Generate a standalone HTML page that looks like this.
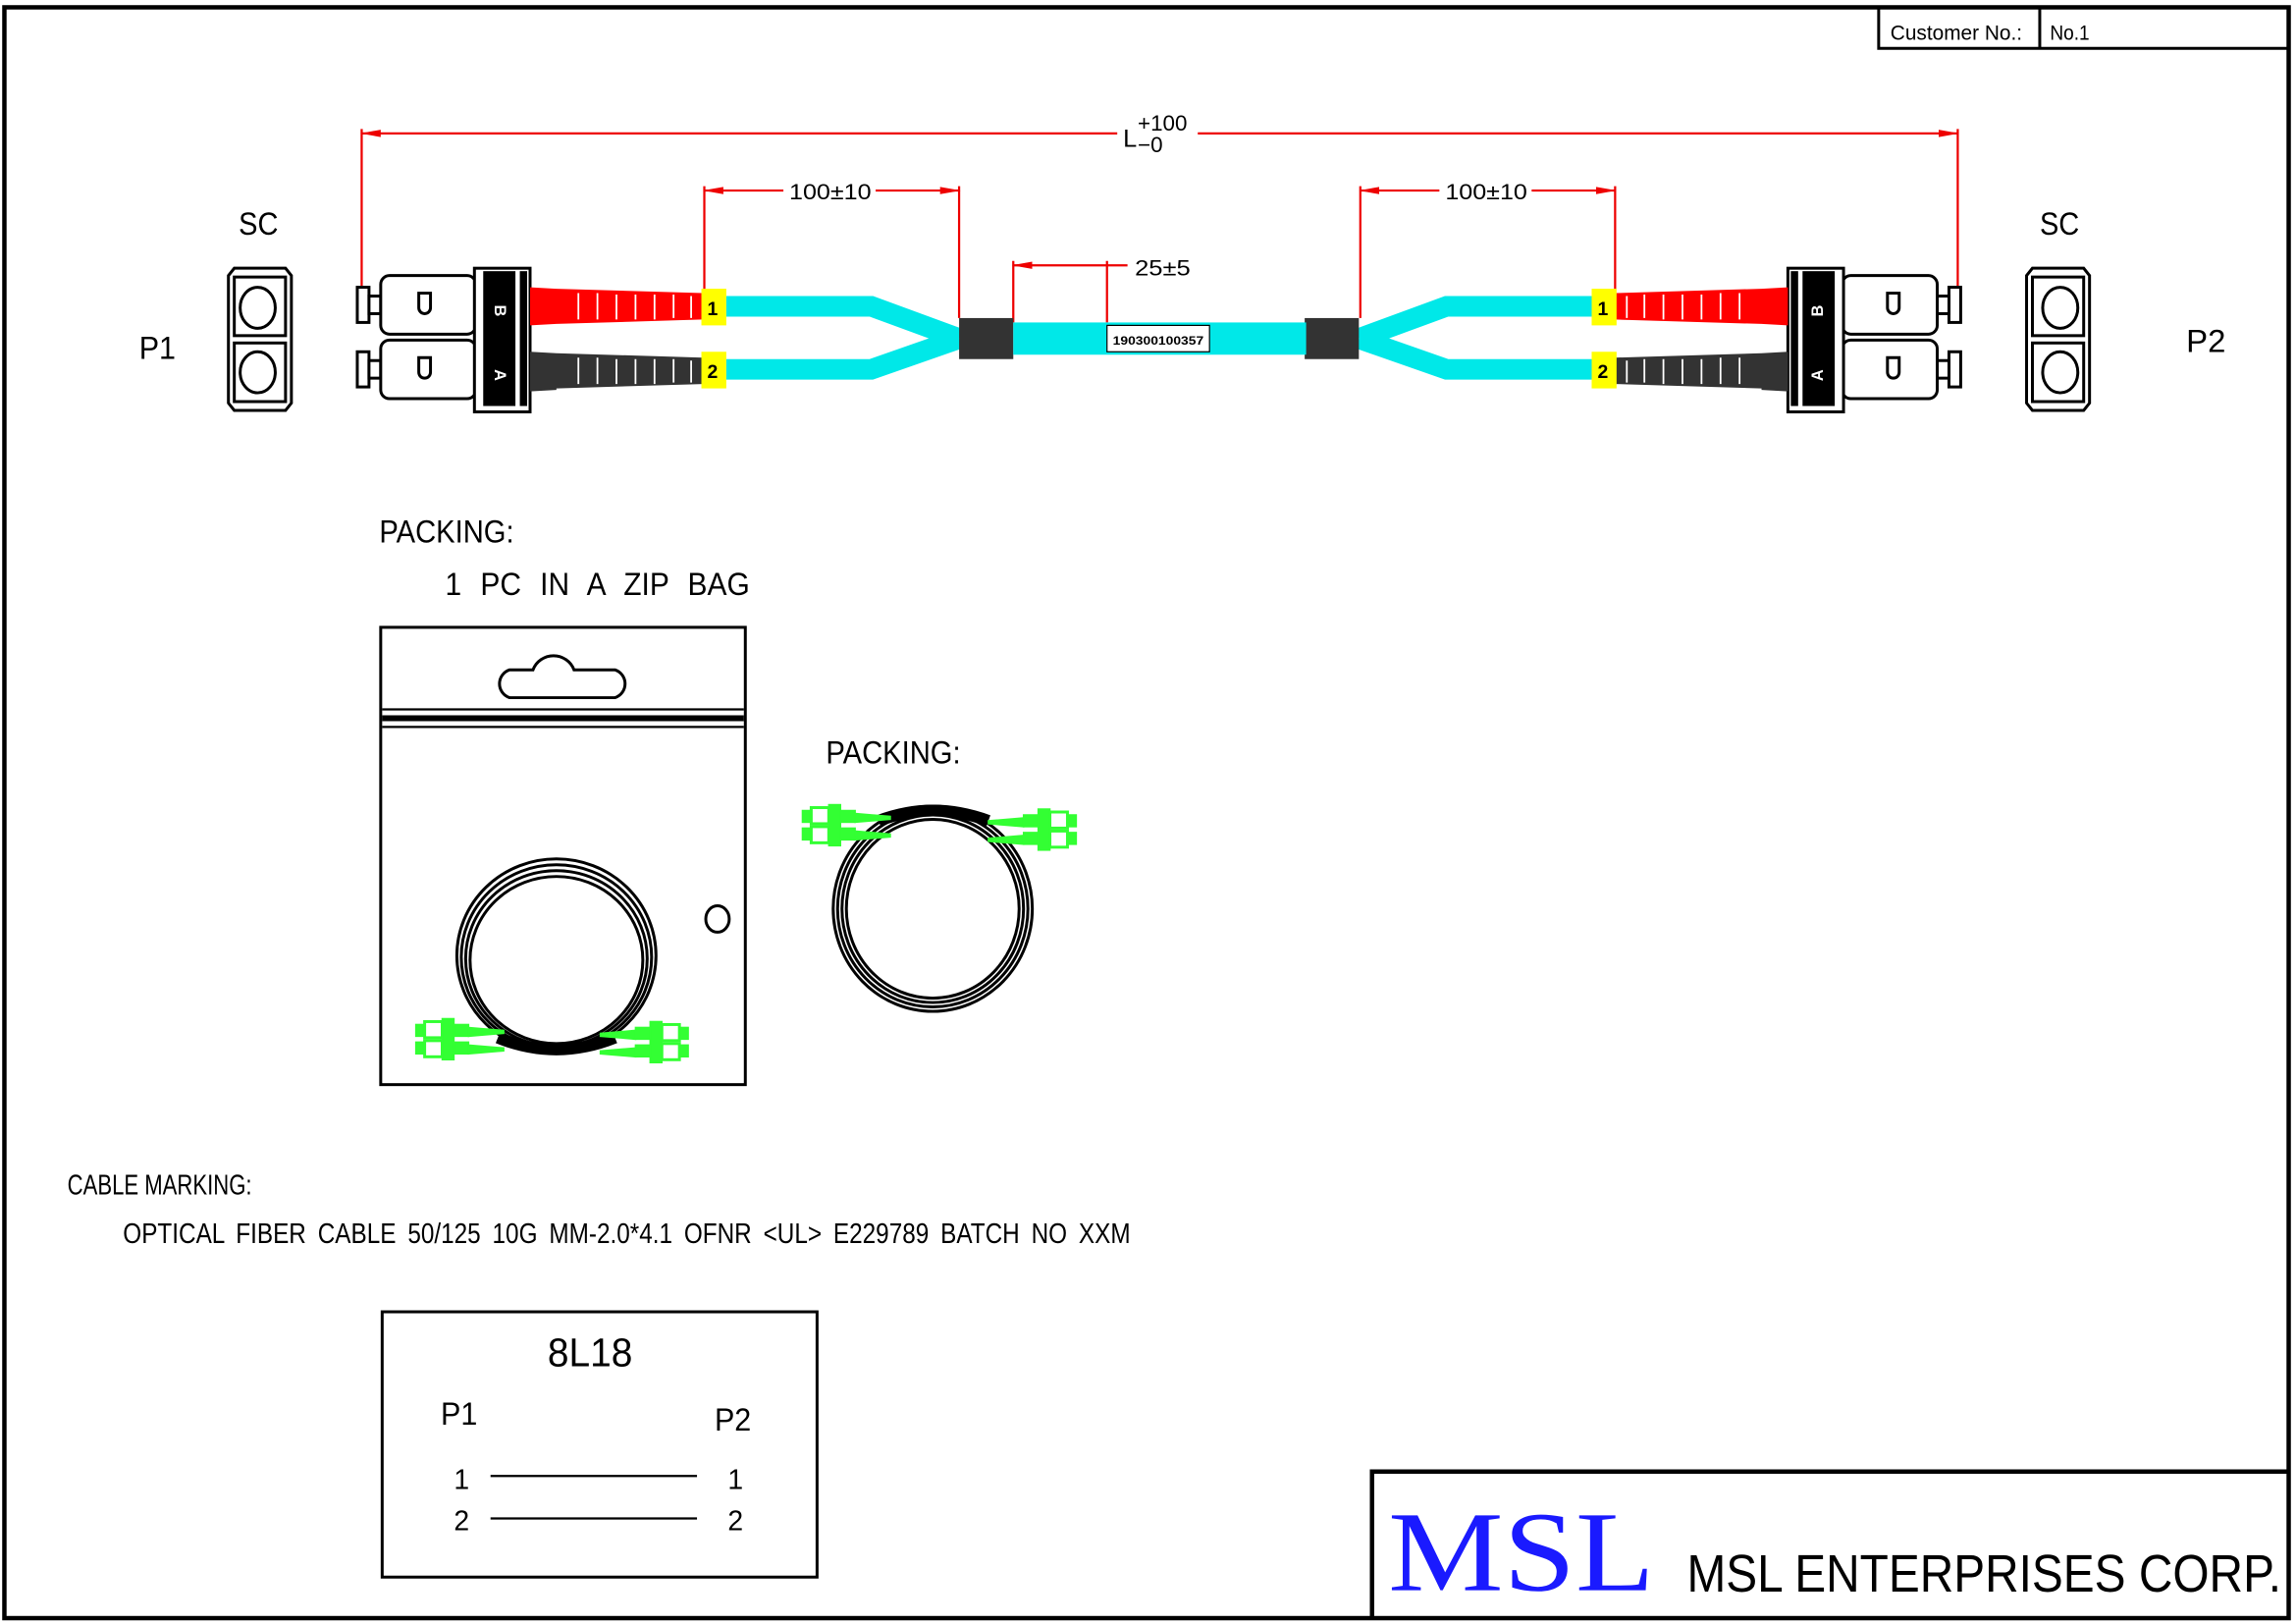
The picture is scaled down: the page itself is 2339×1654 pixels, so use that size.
<!DOCTYPE html>
<html><head><meta charset="utf-8"><style>
html,body{margin:0;padding:0;background:#fff}
svg{display:block}
text{font-family:"Liberation Sans",sans-serif}
text.serif{font-family:"Liberation Serif",serif}
</style></head><body>
<svg width="2339" height="1654" viewBox="0 0 1568 1108" preserveAspectRatio="none" xmlns="http://www.w3.org/2000/svg">
<defs>
<marker id="ar" markerWidth="14" markerHeight="8" refX="13" refY="4" orient="auto" markerUnits="userSpaceOnUse"><path d="M0,1.5 L14,4 L0,6.5 Z" fill="#e00"/></marker>
<g id="conn">
  <g fill="#fff" stroke="#000" stroke-width="2">
    <path d="M160,183 H195 L199,188 V275 L195,280 H160 L156,275 V188 Z"/>
    <rect x="160" y="189" width="35" height="40" fill="none"/>
    <rect x="160" y="234" width="35" height="40" fill="none"/>
    <ellipse cx="176" cy="210" rx="12" ry="14"/>
    <ellipse cx="176" cy="254" rx="12" ry="14"/>
  </g>
  <g fill="#fff" stroke="#000" stroke-width="2">
    <rect x="244" y="196" width="8" height="24"/>
    <rect x="252" y="202" width="8" height="12"/>
    <rect x="260" y="188" width="65" height="40" rx="6"/>
    <path d="M286,200 v10 a4,4 0 0 0 8,0 v-10 Z"/>
    <rect x="244" y="240" width="8" height="24"/>
    <rect x="252" y="246" width="8" height="12"/>
    <rect x="260" y="232" width="65" height="40" rx="6"/>
    <path d="M286,244 v10 a4,4 0 0 0 8,0 v-10 Z"/>
  </g>
  <rect x="324" y="183" width="38" height="98" fill="#fff" stroke="#000" stroke-width="2"/>
  <rect x="330" y="185" width="22" height="92" fill="#000"/>
  <rect x="355" y="185" width="5" height="92" fill="#000"/>
  <path d="M362,196 L380,197 V221 L362,222 Z M380,197 L480,200 V218 L380,221 Z" fill="#f00"/>
  <path d="M362,240 L380,241 V266 L362,267 Z M380,241 L480,244 V262 L380,265 Z" fill="#333"/>
  <g stroke="#fff" stroke-width="1.2">
    <path d="M395,200 v18 M408,200 v18 M421,201 v17 M434,201 v17 M447,201 v17 M460,201 v16 M472,202 v15"/>
    <path d="M395,244 v18 M408,244 v18 M421,245 v17 M434,245 v17 M447,245 v17 M460,245 v16 M472,246 v15"/>
  </g>
  <rect x="479" y="197" width="17" height="25" fill="#ff0"/>
  <rect x="479" y="240" width="17" height="25" fill="#ff0"/>
  <path d="M496,209 H595 L655,231 M496,252 H595 L655,231" fill="none" stroke="#00e8e8" stroke-width="14"/>
  <rect x="655" y="217" width="37" height="28" fill="#333"/>
</g>
<g id="pconn" fill="#3f3" stroke="#3f3">
  <rect x="0" y="0" width="5" height="8"/><rect x="0" y="12" width="5" height="8"/>
  <rect x="6" y="-2" width="12" height="11" fill="none" stroke-width="2"/><rect x="6" y="11" width="12" height="11" fill="none" stroke-width="2"/>
  <rect x="18" y="-4" width="8" height="28"/>
  <rect x="26" y="0" width="10" height="8"/><rect x="26" y="12" width="10" height="8"/>
  <path d="M36,2 L60,4 V6 L36,8 Z M36,14 L60,16 V18 L36,20 Z"/>
</g>
</defs>

<rect x="3" y="5" width="1560" height="1099" fill="none" stroke="#000" stroke-width="3"/>
<path d="M1283,5 V33 H1562 M1393,5 V33" fill="none" stroke="#000" stroke-width="2"/>
<text x="1291" y="27" font-size="14" textLength="90" lengthAdjust="spacingAndGlyphs">Customer No.:</text>
<text x="1400" y="27" font-size="14" textLength="27" lengthAdjust="spacingAndGlyphs">No.1</text>

<g stroke="#e00" stroke-width="1.5" fill="none">
  <path d="M247,88 V195 M1337,88 V195"/>
  <path d="M763,91 H247" marker-end="url(#ar)"/>
  <path d="M818,91 H1337" marker-end="url(#ar)"/>
  <path d="M481,127 V200 M655,127 V217"/>
  <path d="M535,130 H481" marker-end="url(#ar)"/>
  <path d="M598,130 H655" marker-end="url(#ar)"/>
  <path d="M929,127 V217 M1103,127 V200"/>
  <path d="M983,130 H929" marker-end="url(#ar)"/>
  <path d="M1046,130 H1103" marker-end="url(#ar)"/>
  <path d="M692,178 V220 M756,178 V220"/>
  <path d="M756,181 H692" marker-end="url(#ar)"/>
  <path d="M756,181 H770"/>
</g>
<text x="767" y="100" font-size="17">L</text>
<text x="777" y="89" font-size="15">+100</text>
<text x="777" y="104" font-size="15">−0</text>
<text x="539" y="136" font-size="15" textLength="56" lengthAdjust="spacingAndGlyphs">100±10</text>
<text x="987" y="136" font-size="15" textLength="56" lengthAdjust="spacingAndGlyphs">100±10</text>
<text x="775" y="188" font-size="15" textLength="38" lengthAdjust="spacingAndGlyphs">25±5</text>

<use href="#conn"/>
<use href="#conn" transform="translate(1583,0) scale(-1,1)"/>
<rect x="692" y="220" width="200" height="22" fill="#00e8e8"/>
<rect x="756" y="222" width="70" height="18" fill="#fff" stroke="#000" stroke-width="0.8"/>
<text x="760" y="235" font-size="8" font-weight="bold" textLength="62" lengthAdjust="spacingAndGlyphs">190300100357</text>
<g font-size="13" font-weight="bold">
<text x="483" y="215">1</text><text x="483" y="258">2</text>
<text x="1091" y="215">1</text><text x="1091" y="258">2</text>
</g>
<g font-size="11" font-weight="bold" fill="#fff">
<text x="0" y="0" transform="translate(338,208) rotate(90)">B</text>
<text x="0" y="0" transform="translate(338,252) rotate(90)">A</text>
<text x="0" y="0" transform="translate(1245,208) rotate(-90) translate(-8,0)">B</text>
<text x="0" y="0" transform="translate(1245,252) rotate(-90) translate(-8,0)">A</text>
</g>

<text x="163" y="160" font-size="22" textLength="27" lengthAdjust="spacingAndGlyphs">SC</text>
<text x="1393" y="160" font-size="22" textLength="27" lengthAdjust="spacingAndGlyphs">SC</text>
<text x="95" y="245" font-size="22" textLength="25" lengthAdjust="spacingAndGlyphs">P1</text>
<text x="1493" y="240" font-size="22" textLength="27" lengthAdjust="spacingAndGlyphs">P2</text>

<text x="259" y="370" font-size="22" textLength="92" lengthAdjust="spacingAndGlyphs">PACKING:</text>
<text x="304" y="406" font-size="22" textLength="208" lengthAdjust="spacingAndGlyphs" word-spacing="8">1 PC IN A ZIP BAG</text>
<rect x="260" y="428" width="249" height="312" fill="none" stroke="#000" stroke-width="2"/>
<path d="M261,484 H508 M261,496 H508" stroke="#000" stroke-width="1.5"/>
<path d="M261,490 H508" stroke="#000" stroke-width="4"/>
<path d="M348,457 H364 A15,15 0 0 1 392,457 H420 A10,10 0 0 1 420,476 H348 A10,10 0 0 1 348,457 Z" fill="none" stroke="#000" stroke-width="2"/>
<ellipse cx="490" cy="627" rx="8" ry="9" fill="none" stroke="#000" stroke-width="2"/>
<g fill="none" stroke="#000" stroke-width="2">
  <ellipse cx="380" cy="652" rx="68" ry="66"/><ellipse cx="380" cy="653" rx="65" ry="63"/>
  <ellipse cx="380" cy="654" rx="62" ry="60"/><ellipse cx="380" cy="655" rx="59" ry="57"/>
</g>
<path d="M340,708 Q380,724 420,708" stroke="#000" stroke-width="8" fill="none"/>
<use href="#pconn" transform="translate(284,699)"/>
<use href="#pconn" transform="translate(470,701) scale(-1,1)"/>

<text x="564" y="521" font-size="22" textLength="92" lengthAdjust="spacingAndGlyphs">PACKING:</text>
<g fill="none" stroke="#000" stroke-width="2">
  <ellipse cx="637" cy="620" rx="68" ry="70"/><ellipse cx="637" cy="620" rx="65" ry="67"/>
  <ellipse cx="637" cy="620" rx="62" ry="64"/><ellipse cx="637" cy="620" rx="59" ry="61"/>
</g>
<path d="M600,560 Q637,546 675,560" stroke="#000" stroke-width="8" fill="none"/>
<use href="#pconn" transform="translate(548,553)"/>
<use href="#pconn" transform="translate(735,556) scale(-1,1)"/>

<text x="46" y="815" font-size="19" textLength="126" lengthAdjust="spacingAndGlyphs">CABLE MARKING:</text>
<text x="84" y="848" font-size="19" textLength="688" lengthAdjust="spacingAndGlyphs" word-spacing="4">OPTICAL FIBER CABLE 50/125 10G MM-2.0*4.1 OFNR &lt;UL&gt; E229789 BATCH NO XXM</text>

<rect x="261" y="895" width="297" height="181" fill="none" stroke="#000" stroke-width="2"/>
<text x="374" y="932" font-size="27" textLength="58" lengthAdjust="spacingAndGlyphs">8L18</text>
<text x="301" y="972" font-size="22" textLength="25" lengthAdjust="spacingAndGlyphs">P1</text>
<text x="488" y="976" font-size="22" textLength="25" lengthAdjust="spacingAndGlyphs">P2</text>
<text x="310" y="1016" font-size="19">1</text><text x="497" y="1016" font-size="19">1</text>
<text x="310" y="1044" font-size="19">2</text><text x="497" y="1044" font-size="19">2</text>
<path d="M335,1007 H476 M335,1036 H476" stroke="#000" stroke-width="1.5"/>

<path d="M937,1104 V1004 H1562" fill="none" stroke="#000" stroke-width="3"/>
<text class="serif" x="948" y="1085" font-size="78" fill="#1a1aff" textLength="182" lengthAdjust="spacingAndGlyphs">MSL</text>
<text x="1152" y="1086" font-size="36" textLength="406" lengthAdjust="spacingAndGlyphs">MSL ENTERPRISES CORP.</text>
</svg>
</body></html>
